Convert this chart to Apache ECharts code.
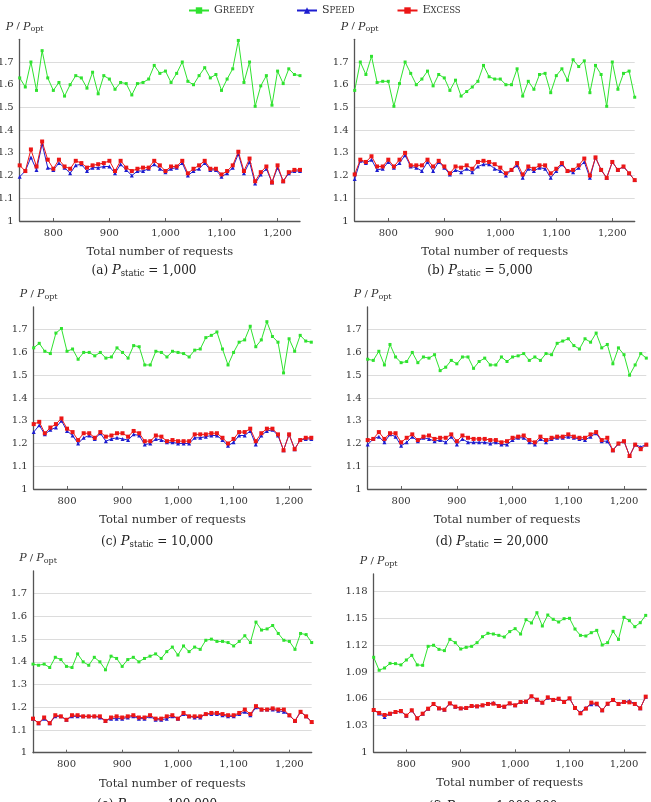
<!DOCTYPE html>
<html>
<head>
<meta charset="utf-8">
<script src="https://cdn.jsdelivr.net/npm/echarts@6/dist/echarts.min.js"></script>
<style>html,body{margin:0;padding:0;background:#fff;}#c{width:651px;height:802px;}</style>
</head>
<body>
<div id="c"></div>
<script>
const requests = [740,750,760,770,780,790,800,810,820,830,840,850,860,870,880,890,900,910,920,930,940,950,960,970,980,990,1000,1010,1020,1030,1040,1050,1060,1070,1080,1090,1100,1110,1120,1130,1140,1150,1160,1170,1180,1190,1200,1210,1220,1230,1240];

const greedyA = [1.63,1.59,1.70,1.575,1.75,1.63,1.575,1.61,1.55,1.60, 1.64,1.63,1.585,1.655,1.56,1.64,1.625,1.58,1.61,1.605, 1.555,1.605,1.61,1.625,1.685,1.65,1.66,1.61,1.65,1.70, 1.615,1.60,1.64,1.675,1.63,1.645,1.575,1.625,1.67,1.795, 1.61,1.70,1.505,1.595,1.64,1.51,1.66,1.605,1.67,1.645, 1.64];
const speedA = [1.195,1.22,1.28,1.225,1.34,1.235,1.225,1.255,1.235,1.21, 1.245,1.25,1.22,1.235,1.235,1.24,1.24,1.21,1.25,1.225, 1.20,1.22,1.22,1.23,1.25,1.23,1.215,1.23,1.235,1.255, 1.20,1.22,1.23,1.255,1.225,1.225,1.195,1.21,1.235,1.295, 1.21,1.26,1.165,1.205,1.23,1.17,1.235,1.175,1.21,1.22, 1.22];
const excessA = [1.245,1.22,1.315,1.24,1.35,1.27,1.23,1.27,1.24,1.23, 1.265,1.255,1.235,1.245,1.25,1.255,1.265,1.22,1.265,1.235, 1.22,1.23,1.235,1.235,1.265,1.245,1.22,1.24,1.24,1.265, 1.21,1.23,1.245,1.265,1.23,1.23,1.205,1.22,1.245,1.305, 1.22,1.275,1.175,1.215,1.24,1.17,1.245,1.175,1.215,1.225, 1.225];

const greedyB = [1.575,1.70,1.645,1.725,1.61,1.615,1.615,1.505,1.605,1.70, 1.65,1.60,1.625,1.66,1.595,1.645,1.63,1.575,1.62,1.55, 1.57,1.59,1.615,1.685,1.635,1.625,1.625,1.60,1.60,1.67, 1.55,1.615,1.58,1.645,1.65,1.565,1.64,1.67,1.62,1.71, 1.68,1.705,1.565,1.685,1.645,1.505,1.70,1.58,1.65,1.66, 1.545];
const speedB = [1.185,1.265,1.255,1.27,1.225,1.23,1.26,1.235,1.255,1.29, 1.24,1.235,1.22,1.26,1.22,1.26,1.235,1.205,1.225,1.215, 1.23,1.215,1.24,1.25,1.25,1.23,1.22,1.20,1.225,1.245, 1.19,1.23,1.22,1.235,1.23,1.19,1.22,1.25,1.22,1.215, 1.235,1.26,1.19,1.28,1.225,1.19,1.26,1.225,1.24,1.21, 1.18];
const excessB = [1.205,1.27,1.26,1.285,1.24,1.24,1.27,1.24,1.27,1.30, 1.245,1.245,1.245,1.27,1.24,1.265,1.24,1.21,1.24,1.235, 1.245,1.23,1.26,1.265,1.26,1.25,1.235,1.21,1.225,1.255, 1.205,1.24,1.23,1.245,1.245,1.21,1.23,1.255,1.22,1.225, 1.245,1.275,1.20,1.28,1.225,1.19,1.26,1.225,1.24,1.21, 1.18];

const greedyC = [1.62,1.64,1.605,1.595,1.685,1.705,1.605,1.615,1.57,1.60, 1.60,1.585,1.60,1.575,1.58,1.62,1.60,1.575,1.63,1.625, 1.545,1.545,1.605,1.60,1.58,1.605,1.60,1.595,1.58,1.61, 1.615,1.665,1.675,1.69,1.615,1.545,1.60,1.645,1.655,1.715, 1.625,1.655,1.735,1.67,1.645,1.51,1.66,1.605,1.675,1.65, 1.645];
const speedC = [1.25,1.28,1.24,1.26,1.27,1.30,1.255,1.235,1.20,1.225, 1.235,1.22,1.245,1.21,1.22,1.225,1.22,1.215,1.24,1.235, 1.195,1.20,1.22,1.215,1.205,1.205,1.20,1.20,1.20,1.225, 1.225,1.23,1.235,1.235,1.215,1.19,1.205,1.235,1.235,1.255, 1.195,1.235,1.255,1.26,1.235,1.17,1.24,1.175,1.215,1.22, 1.22];
const excessC = [1.285,1.295,1.245,1.27,1.285,1.31,1.265,1.25,1.215,1.245, 1.245,1.225,1.25,1.23,1.235,1.245,1.245,1.23,1.255,1.245, 1.21,1.21,1.235,1.23,1.21,1.215,1.21,1.21,1.21,1.24, 1.24,1.24,1.245,1.245,1.225,1.20,1.22,1.25,1.25,1.265, 1.21,1.245,1.265,1.265,1.24,1.17,1.24,1.175,1.215,1.225, 1.225];

const greedyD = [1.57,1.565,1.605,1.545,1.635,1.58,1.555,1.56,1.60,1.555, 1.58,1.575,1.59,1.52,1.535,1.565,1.55,1.58,1.58,1.53, 1.56,1.575,1.545,1.545,1.58,1.56,1.58,1.585,1.595,1.565, 1.58,1.565,1.595,1.59,1.64,1.65,1.66,1.63,1.615,1.66, 1.645,1.685,1.62,1.635,1.55,1.62,1.59,1.50,1.545,1.595, 1.575];
const speedD = [1.195,1.22,1.23,1.205,1.24,1.23,1.19,1.205,1.23,1.21, 1.225,1.22,1.21,1.215,1.205,1.23,1.195,1.22,1.205,1.205, 1.205,1.205,1.20,1.205,1.195,1.195,1.215,1.225,1.225,1.205, 1.195,1.22,1.205,1.22,1.225,1.225,1.23,1.225,1.22,1.215, 1.23,1.245,1.21,1.21,1.17,1.20,1.21,1.145,1.195,1.185, 1.195];
const excessD = [1.215,1.22,1.25,1.22,1.245,1.245,1.205,1.225,1.24,1.215, 1.23,1.235,1.22,1.225,1.225,1.24,1.21,1.235,1.225,1.22, 1.22,1.22,1.215,1.215,1.205,1.21,1.225,1.23,1.235,1.215, 1.205,1.23,1.215,1.225,1.23,1.23,1.24,1.23,1.225,1.225, 1.24,1.25,1.215,1.225,1.17,1.20,1.21,1.145,1.195,1.175, 1.195];

const greedyE = [1.39,1.385,1.39,1.375,1.42,1.41,1.38,1.375,1.435,1.40, 1.385,1.42,1.40,1.365,1.425,1.415,1.38,1.41,1.42,1.40, 1.415,1.425,1.435,1.415,1.445,1.465,1.43,1.47,1.445,1.465, 1.455,1.495,1.50,1.49,1.49,1.485,1.47,1.49,1.515,1.485, 1.575,1.54,1.545,1.56,1.525,1.495,1.49,1.455,1.525,1.52, 1.485];
const speedE = [1.15,1.13,1.15,1.13,1.16,1.16,1.145,1.16,1.16,1.16, 1.16,1.16,1.155,1.14,1.15,1.15,1.15,1.155,1.16,1.15, 1.15,1.16,1.145,1.145,1.15,1.16,1.15,1.17,1.16,1.155, 1.155,1.17,1.17,1.17,1.165,1.16,1.16,1.17,1.18,1.165, 1.20,1.19,1.19,1.19,1.185,1.18,1.165,1.14,1.18,1.16, 1.135];
const excessE = [1.15,1.13,1.155,1.13,1.165,1.16,1.145,1.165,1.165,1.16, 1.16,1.16,1.16,1.14,1.155,1.16,1.155,1.16,1.165,1.155, 1.155,1.165,1.15,1.15,1.16,1.165,1.15,1.175,1.16,1.16, 1.16,1.17,1.175,1.175,1.17,1.165,1.165,1.175,1.19,1.17, 1.205,1.19,1.19,1.195,1.19,1.19,1.165,1.14,1.18,1.16, 1.135];

const greedyF = [1.1065,1.092,1.0945,1.0997,1.0994,1.098,1.1035,1.1087,1.098,1.0975, 1.1188,1.120,1.1154,1.114,1.1266,1.1229,1.1158,1.1177,1.1188,1.1229, 1.1296,1.1334,1.1326,1.1311,1.1293,1.1353,1.1386,1.1326,1.1487,1.145, 1.1565,1.1416,1.1539,1.1491,1.1461,1.1498,1.1502,1.1382,1.1311,1.1304, 1.1341,1.1367,1.1203,1.1229,1.1356,1.1266,1.1513,1.1476,1.1408,1.1453, 1.1535];
const speedF = [1.0474,1.0435,1.0395,1.0433,1.0452,1.046,1.0411,1.0471,1.0381,1.0433, 1.0489,1.0542,1.0493,1.0478,1.0549,1.0512,1.0493,1.0497,1.0519,1.0516, 1.0527,1.0542,1.0555,1.0519,1.0512,1.0549,1.0527,1.0564,1.0568,1.0628, 1.059,1.0557,1.0612,1.0587,1.0601,1.0564,1.0605,1.0497,1.0445,1.050, 1.054,1.054,1.0471,1.0545,1.0587,1.0542,1.0564,1.0578,1.0542,1.0493, 1.0624];
const excessF = [1.0474,1.0441,1.0418,1.0433,1.0452,1.0463,1.0411,1.0471,1.0381,1.0433, 1.0489,1.0542,1.0493,1.0478,1.0549,1.0512,1.0493,1.0497,1.0519,1.0516, 1.0527,1.0542,1.0545,1.0519,1.0512,1.0549,1.0527,1.0564,1.0568,1.0628, 1.059,1.0557,1.0616,1.0587,1.0601,1.0564,1.0605,1.0497,1.0437,1.0489, 1.0557,1.0545,1.0471,1.0545,1.0587,1.0542,1.0564,1.056,1.0542,1.0493, 1.0624];

const seriesNames = ['Greedy','Speed','Excess'];
const captions = ['(a)','(b)','(c)','(d)','(e)','(f)'];
const staticValues = ['1,000','5,000','10,000','20,000','100,000','1,000,000'];
const yTicks = [[1,1.8,0.1],[1,1.8,0.1],[1,1.8,0.1],[1,1.8,0.1],[1,1.8,0.1],[1,1.2,0.03]];
const xTitle = 'Total number of requests';

const panels = [
  [greedyA, speedA, excessA],
  [greedyB, speedB, excessB],
  [greedyC, speedC, excessC],
  [greedyD, speedD, excessD],
  [greedyE, speedE, excessE],
  [greedyF, speedF, excessF]
];

const gridBoxes = [
  {left: 19.7, top: 39.3, width: 280.3, height: 181.7},
  {left: 354.7, top: 39.3, width: 280, height: 181.7},
  {left: 33.7, top: 306.9, width: 277.6, height: 182.1},
  {left: 367.7, top: 306.9, width: 278.6, height: 182.1},
  {left: 33, top: 571, width: 278.7, height: 181.7},
  {left: 373.7, top: 573.9, width: 272, height: 178.4}
];
const captionPos = [[144,271],[480,271],[157,542],[492,542],[157,805],[493,807]];

const FONT = 'DejaVu Serif';
const colors = ['#2fe22f', '#1d1dd0', '#ec1616'];
const symbols = ['rect', 'triangle', 'rect'];
const symbolSizes = [3, 4, 4];

const grids = [], xAxes = [], yAxes = [], series = [], graphics = [];
gridBoxes.forEach((g, i) => {
  grids.push(Object.assign({containLabel: false, outerBoundsMode: 'none'}, g));
  xAxes.push({
    type: 'category', gridIndex: i, data: requests, boundaryGap: false,
    axisLine: {lineStyle: {color: '#555', width: 1.3}},
    axisTick: {inside: true, length: 3, lineStyle: {color: '#666'},
      interval: (idx, v) => Number(v) % 100 === 0},
    axisLabel: {fontFamily: FONT, fontSize: 10, color: '#333', margin: 7,
      interval: (idx, v) => Number(v) % 100 === 0,
      formatter: v => Number(v).toLocaleString('en-US')},
    splitLine: {show: false},
    name: xTitle, nameLocation: 'middle', nameGap: 25,
    nameTextStyle: {fontFamily: FONT, fontSize: 11.5, color: '#333'}
  });
  const t = yTicks[i];
  yAxes.push({
    type: 'value', gridIndex: i, min: t[0], max: t[1], interval: t[2],
    axisLine: {show: true, lineStyle: {color: '#555', width: 1.3}},
    axisTick: {show: false},
    axisLabel: {fontFamily: FONT, fontSize: 10, color: '#333', margin: 6, showMaxLabel: false},
    splitLine: {show: true, showMaxLine: false, showMinLine: false, lineStyle: {color: '#dcdcdc', width: 1}},
    name: '{p|P}{n| / }{p|P}{s|opt}', nameLocation: 'end', nameGap: 6,
    nameTextStyle: {padding: [0, 0, 0, 10], rich: {
      p: {fontFamily: FONT, fontStyle: 'italic', fontSize: 11, color: '#333'},
      n: {fontFamily: FONT, fontSize: 10, color: '#333'},
      s: {fontFamily: FONT, fontSize: 8, color: '#333', padding: [5, 0, 0, 0]}
    }}
  });
  panels[i].forEach((arr, k) => {
    series.push({
      name: seriesNames[k], type: 'line', xAxisIndex: i, yAxisIndex: i,
      data: arr, symbol: symbols[k], symbolSize: symbolSizes[k],
      showSymbol: true, showAllSymbol: true, animation: false,
      lineStyle: {color: colors[k], width: 1},
      itemStyle: {color: colors[k]}, z: 2 + k
    });
  });
  graphics.push({
    type: 'text', x: captionPos[i][0], y: captionPos[i][1],
    style: {
      text: '{n|' + captions[i] + ' }{p|P}{s|static}{n| = ' + staticValues[i] + '}',
      align: 'center', verticalAlign: 'middle',
      rich: {
        n: {fontFamily: FONT, fontSize: 12, fill: '#222'},
        p: {fontFamily: FONT, fontStyle: 'italic', fontSize: 13, fill: '#222'},
        s: {fontFamily: FONT, fontSize: 8.5, fill: '#222', padding: [6, 0, 0, 0]}
      }
    }
  });
});

const smallCaps = {Greedy: '{c|G}{s|REEDY}', Speed: '{c|S}{s|PEED}', Excess: '{c|E}{s|XCESS}'};

const chart = echarts.init(document.getElementById('c'), null, {renderer: 'canvas'});
chart.setOption({
  animation: false,
  backgroundColor: '#fff',
  legend: {
    data: seriesNames, left: 183, top: 0, itemWidth: 20, itemHeight: 8, itemGap: 42,
    formatter: n => smallCaps[n],
    textStyle: {rich: {
      c: {fontFamily: FONT, fontSize: 11, color: '#333'},
      s: {fontFamily: FONT, fontSize: 8.5, color: '#333'}
    }}
  },
  grid: grids, xAxis: xAxes, yAxis: yAxes, series: series, graphic: graphics
});
</script>
</body>
</html>
